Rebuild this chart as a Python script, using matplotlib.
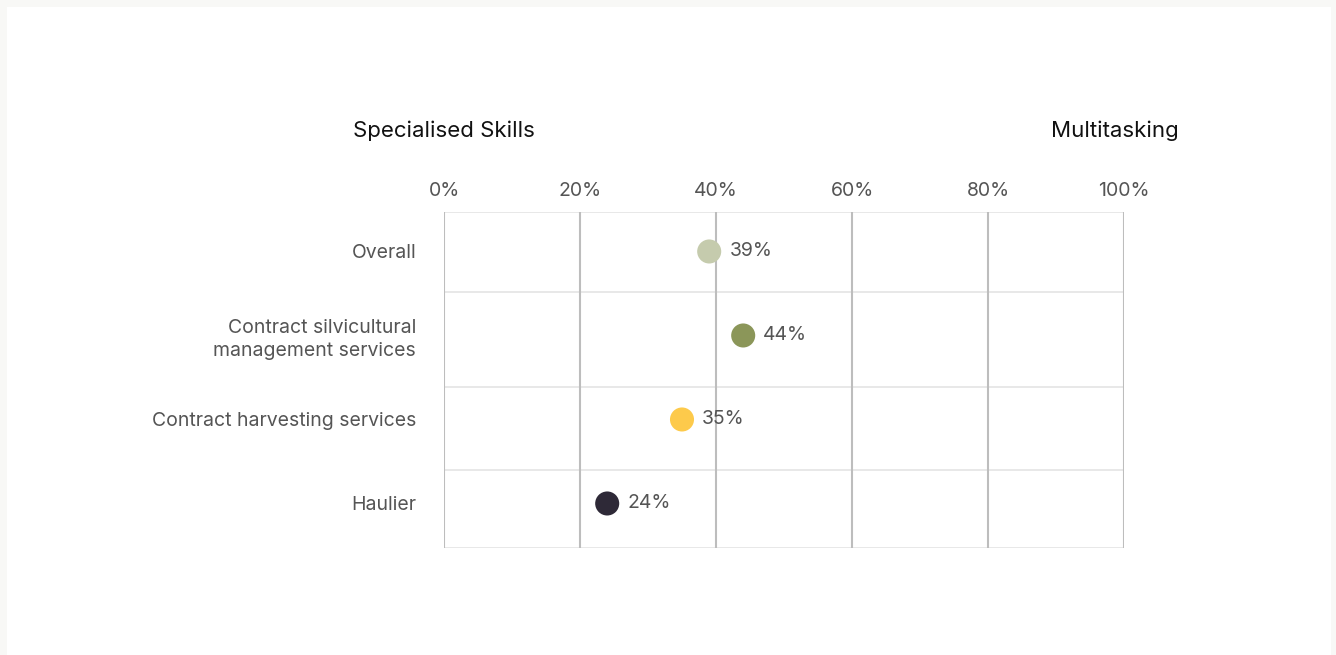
import matplotlib.pyplot as plt
from matplotlib.patches import Rectangle

categories = ["Overall", "Contract silvicultural\nmanagement services",
              "Contract harvesting services", "Haulier"]
values = [39, 44, 35, 24]
colors = ["#c5cbad", "#8b9659", "#fdca4b", "#2e2937"]
ticks = [0, 20, 40, 60, 80, 100]
tick_labels = ["0%", "20%", "40%", "60%", "80%", "100%"]

plt.rcParams['font.family'] = ['Inter', 'DejaVu Sans']

W, H = 1336, 655
fig = plt.figure(figsize=(W / 100, H / 100), dpi=100, facecolor="#f8f8f6")

# white card on the light page
fig.patches.append(Rectangle((7 / W, 0), (1331 - 7) / W, (H - 7) / H,
                             transform=fig.transFigure, facecolor="white",
                             edgecolor="none", zorder=-10))

ax = fig.add_axes([444 / W, (H - 548) / H, (1124 - 444) / W, (548 - 212) / H])
ax.set_facecolor("none")
ax.set_xlim(0, 100)
ax.set_ylim(3.53, -0.47)

# row bands
for b in [-0.47, 0.48, 1.61, 2.6, 3.53]:
    ax.axhline(b, color="#e8e8e8", lw=1.4, zorder=1)
for t in ticks:
    ax.axvline(t, color="#bdbdbd", lw=1.5, zorder=2)

ypos = list(range(len(categories)))
ax.scatter(values, ypos, s=300, c=colors, zorder=3, linewidths=0)
for v, y in zip(values, ypos):
    ax.annotate(f"{v}%", (v, y), xytext=(14.5, 0), textcoords="offset points",
                va="center", ha="left", fontsize=14, color="#555555", zorder=4)

ax.xaxis.tick_top()
ax.set_xticks(ticks)
ax.set_xticklabels(tick_labels, fontsize=14, color="#555555")
ax.set_yticks(ypos)
ax.set_yticklabels(categories, fontsize=14, color="#555555", linespacing=1.35)
ax.tick_params(length=0)
ax.tick_params(axis="x", pad=8.5)
ax.tick_params(axis="y", pad=20)
for s in ax.spines.values():
    s.set_visible(False)

ax.text(0, 1.241, "Specialised Skills", transform=ax.get_xaxis_transform(),
        ha="center", va="center", fontsize=16, color="#111111")
ax.text(98.7, 1.241, "Multitasking", transform=ax.get_xaxis_transform(),
        ha="center", va="center", fontsize=16, color="#111111")

fig.savefig("out.png", dpi=100, facecolor=fig.get_facecolor())
